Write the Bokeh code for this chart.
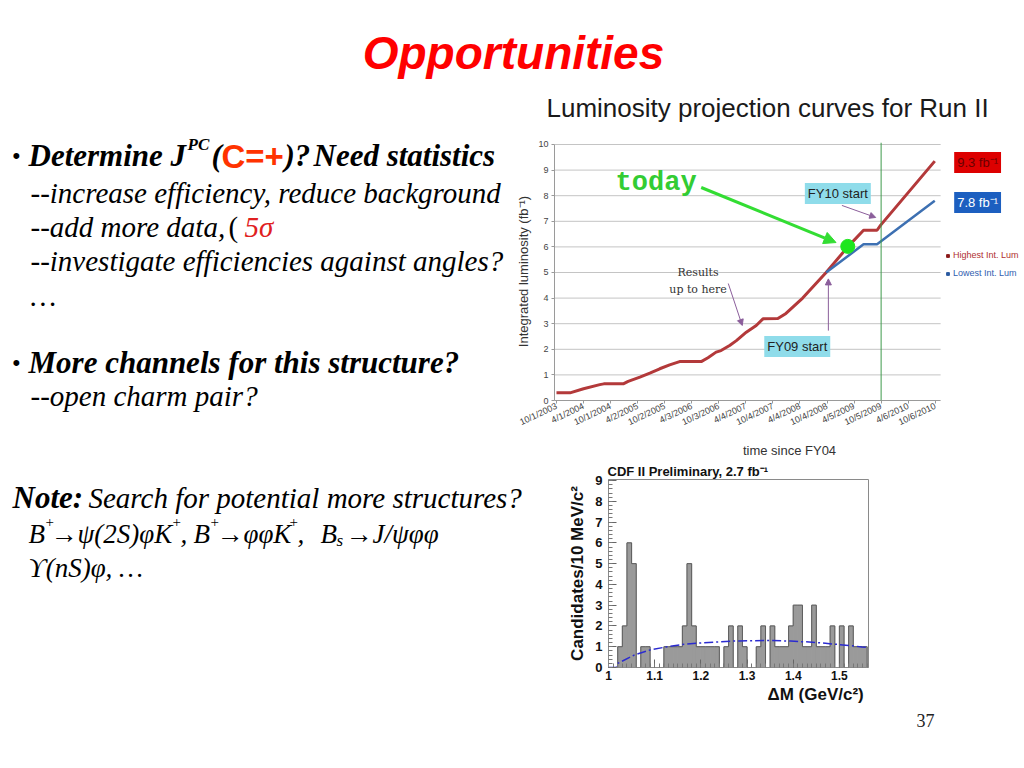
from bokeh.plotting import figure
from bokeh.models import (Range1d, Label, Arrow, NormalHead, Span, Legend, LegendItem,
                          FixedTicker, Title)
from bokeh.layouts import column, row
from bokeh.embed import file_html
from bokeh.resources import INLINE
from bokeh.core.properties import value

# ---------------- data ----------------
lumi_tick_months = [0, 6, 12, 18, 24, 30, 36, 42, 48, 54, 60, 66, 72, 78, 84]
lumi_tick_labels = ["10/1/2003", "4/1/2004", "10/1/2004", "4/2/2005", "10/2/2005",
                    "4/3/2006", "10/3/2006", "4/4/2007", "10/4/2007", "4/4/2008",
                    "10/4/2008", "4/5/2009", "10/5/2009", "4/6/2010", "10/6/2010"]
lumi_y_ticks = [0, 1, 2, 3, 4, 5, 6, 7, 8, 9, 10]
# months since 10/1/2003 and integrated luminosity (fb^-1)
high_months = [0, 3, 6, 9.6, 10.5, 14.8, 15.9, 18.5, 20.7, 22.9, 25.1, 27.3, 32.1, 33.6,
               35.4, 36.5, 38.4, 39.9, 42.1, 44.3, 45.8, 49.1, 50.9, 54.6, 59.8, 64.6,
               68.1, 71.1, 71.9, 83.9]
high_lumi = [0.3, 0.3, 0.46, 0.62, 0.65, 0.65, 0.75, 0.91, 1.07, 1.24, 1.39, 1.52, 1.52,
             1.67, 1.89, 1.95, 2.15, 2.34, 2.67, 2.93, 3.19, 3.2, 3.4, 4.0, 5.0, 6.0,
             6.65, 6.65, 6.85, 9.35]
low_months = [59.8, 68.1, 71.1, 83.9]
low_lumi = [5.0, 6.1, 6.1, 7.8]
today_month = [64.6]
today_lumi = [6.02]
fy10_month = 72
proj_high = "9.3 fb\u207b\u00b9"
proj_low = "7.8 fb\u207b\u00b9"

hist_counts = [0, 0, 1, 2, 6, 5, 0, 1, 1, 0, 0, 0, 1, 1, 1, 1, 2, 5, 2, 1, 1, 1, 1, 1,
               0, 1, 2, 0, 2, 1, 0, 0, 1, 2, 0, 2, 1, 1, 1, 2, 3, 3, 1, 1, 3, 1, 1, 1,
               2, 0, 2, 0, 2, 1, 1, 1]
hist_x0 = 1.00
hist_bw = 0.01
hist_x_ticks = [1.0, 1.1, 1.2, 1.3, 1.4, 1.5]
hist_x_labels = ["1", "1.1", "1.2", "1.3", "1.4", "1.5"]
hist_y_ticks = [0, 1, 2, 3, 4, 5, 6, 7, 8, 9]
fit_x = [1.0, 1.017, 1.02, 1.056, 1.092, 1.128, 1.164, 1.2, 1.272, 1.283, 1.348, 1.394,
         1.441, 1.492, 1.52, 1.549, 1.56]
fit_y = [0.0, 0.0, 0.2, 0.6, 0.86, 1.0, 1.12, 1.18, 1.28, 1.28, 1.3, 1.27, 1.22, 1.12,
         1.06, 0.99, 0.97]

SERIF = "Liberation Serif"
SANS = "Liberation Sans"


def blank(w, h):
    p = figure(width=w, height=h, x_range=Range1d(0, w), y_range=Range1d(h, 0),
               x_axis_type=None, y_axis_type=None, output_backend="svg",
               toolbar_location=None, min_border=0, frame_align=False)
    p.grid.visible = False
    p.outline_line_color = None
    return p


def seg(p, oy, x, y, s, size, color="black", font=SERIF, style="normal",
        align="left", baseline="alphabetic"):
    p.text(x=[x], y=[y - oy], text=[s], text_font=value(font),
           text_font_size=value(f"{size}px"), text_font_style=style, text_color=color,
           text_align=align, text_baseline=baseline)


BI = 31   # bold italic size
IT = 29   # italic size

# ---------------- title ----------------
title_fig = blank(1024, 88)
seg(title_fig, 0, 513, 52, "Opportunities", 46, color="#ff0000", font=SANS,
    style="bold italic", align="center")

# ---------------- left text, top ----------------
lt = blank(513, 372)
o = 88
seg(lt, o, 12, 155, "\u2022", 22, font=SANS)
seg(lt, o, 28, 155, "Determine", BI, style="bold italic")
seg(lt, o, 170, 155, "J", BI, style="bold italic")
seg(lt, o, 187, 144, "PC", 17, style="bold italic")
seg(lt, o, 211, 155, "(", BI, style="bold italic")
seg(lt, o, 221, 156, "C=+", 33, color="#ff3300", font=SANS, style="bold")
seg(lt, o, 284, 155, ")?", BI, style="bold italic")
seg(lt, o, 313, 155, "Need statistics", BI, style="bold italic")
seg(lt, o, 30, 192, "--increase efficiency, reduce background", IT, style="italic")
seg(lt, o, 30, 226, "--add more data,", IT, style="italic")
seg(lt, o, 228, 226, "(", IT)
seg(lt, o, 244, 226, "5\u03c3", IT, color="#e02020", style="italic")
seg(lt, o, 30, 260, "--investigate efficiencies against angles?", IT, style="italic")
seg(lt, o, 30, 295, "\u2026", IT, style="italic")
seg(lt, o, 12, 362, "\u2022", 22, font=SANS)
seg(lt, o, 28, 362, "More channels for this structure?", BI, style="bold italic")
seg(lt, o, 30, 395, "--open charm pair?", IT, style="italic")

# ---------------- left text, bottom ----------------
lb = blank(556, 308)
o = 460
seg(lb, o, 12, 497, "Note:", BI, style="bold italic")
seg(lb, o, 88, 497, "Search for potential more structures?", IT, style="italic")
M = 27
for x, s, kind in [(28, "B", "n"), (45, "+", "sup"), (50, "\u2192\u03c8(2S)\u03c6K", "n"),
                   (172, "+", "sup"), (180, ",", "n"), (193, "B", "n"), (210, "+", "sup"),
                   (216, "\u2192\u03c6\u03c6K", "n"), (289, "+", "sup"), (297, ",", "n"),
                   (320, "B", "n"), (336, "s", "sub"), (345, "\u2192J/\u03c8\u03c6\u03c6", "n")]:
    if kind == "n":
        seg(lb, o, x, 533, s, M, style="italic")
    elif kind == "sup":
        seg(lb, o, x, 521, s, 15)
    else:
        seg(lb, o, x, 540, s, 17, style="italic")
seg(lb, o, 28, 567, "\u03d2(nS)\u03c6, \u2026", M, style="italic")

# ---------------- luminosity chart ----------------
RED = "#b3393a"
BLUE = "#3d70b2"
lumi = figure(width=511, height=372, x_range=Range1d(-0.44, 103.8),
              y_range=Range1d(0, 10.078), output_backend="svg", toolbar_location=None,
              min_border_left=40, min_border_right=0, min_border_top=54,
              min_border_bottom=60, frame_align=False,
              title="Luminosity projection curves for Run II")
lumi.title.text_font = SANS
lumi.title.text_font_size = "26px"
lumi.title.text_font_style = "normal"
lumi.title.text_color = "#1a1a1a"
lumi.title.align = "left"
lumi.title.offset = -8
lumi.title.standoff = 0
# spacer between the chart title and the plot frame
lumi.add_layout(Title(text=" ", text_font_size="10px", standoff=7), "above")
lumi.outline_line_color = None
lumi.grid.visible = False
lumi.segment(x0=-0.44, x1=85.2, y0=lumi_y_ticks, y1=lumi_y_ticks, line_color="#c4c4c4",
             line_width=1)
lumi.yaxis.ticker = FixedTicker(ticks=lumi_y_ticks)
lumi.xaxis.ticker = FixedTicker(ticks=lumi_tick_months)
lumi.xaxis.bounds = (-0.44, 85.2)
lumi.yaxis.bounds = (0, 10)
lumi.xaxis.major_label_overrides = {m: s for m, s in zip(lumi_tick_months, lumi_tick_labels)}
lumi.xaxis.major_label_orientation = 0.44
for ax in (lumi.xaxis[0], lumi.yaxis[0]):
    ax.axis_line_color = "#9a9a9a"
    ax.major_tick_line_color = "#9a9a9a"
    ax.minor_tick_line_color = None
    ax.major_tick_out = 3
    ax.major_tick_in = 0
    ax.major_label_text_font = SANS
    ax.major_label_text_font_size = "9px"
    ax.major_label_text_color = "#444444"
    ax.axis_label_text_font = SANS
    ax.axis_label_text_font_style = "normal"
    ax.axis_label_text_font_size = "13px"
    ax.axis_label_text_color = "#333333"
lumi.yaxis.axis_label = "Integrated luminosity (fb\u207b\u00b9)"
lumi.yaxis.axis_label_standoff = 4
lumi.yaxis.major_label_standoff = 3
lumi.xaxis.axis_label = "time since FY04"
lumi.xaxis.axis_label_standoff = 8
lumi.xaxis.major_label_standoff = 2

lumi.add_layout(Span(location=fy10_month, dimension="height", line_color="#3f9a4c",
                     line_width=1))
r_high = lumi.line(high_months, high_lumi, line_color=RED, line_width=3)
r_low = lumi.line(low_months, low_lumi, line_color=BLUE, line_width=2.5)
lumi.scatter(today_month, today_lumi, size=14, color="#1ee61e")

lumi.add_layout(Arrow(end=NormalHead(size=12, fill_color="#33dd33", line_color="#33dd33"),
                      x_start=32.1, y_start=8.32, x_end=62.0, y_end=6.17,
                      line_color="#33dd33", line_width=3))
lumi.add_layout(Label(x=22.1, y=8.48, text="today", text_font="Liberation Mono",
                      text_font_size="27px", text_font_style="bold", text_color="#33cc33",
                      text_align="center", text_baseline="middle"))
lumi.add_layout(Label(x=31.4, y=5.0, text="Results", text_font="DejaVu Serif",
                      text_font_size="11px", text_color="#333333", text_align="center",
                      text_baseline="middle"))
lumi.add_layout(Label(x=31.4, y=4.34, text="up to here", text_font="DejaVu Serif",
                      text_font_size="11px", text_color="#333333", text_align="center",
                      text_baseline="middle"))
PURPLE = "#8b5e9b"
for xs, ys, xe, ye in [(38.1, 4.57, 41.2, 2.93), (63.3, 7.62, 70.8, 7.15),
                       (60.3, 2.73, 60.3, 4.75)]:
    lumi.add_layout(Arrow(end=NormalHead(size=6, fill_color=PURPLE, line_color=PURPLE),
                          x_start=xs, y_start=ys, x_end=xe, y_end=ye,
                          line_color=PURPLE, line_width=1))
for xc, yc, s in [(62.4, 8.09, "FY10 start"), (53.4, 2.11, "FY09 start")]:
    lumi.add_layout(Label(x=xc, y=yc, text=s, text_font=SANS, text_font_size="13px",
                          text_color="#222222", text_align="center", text_baseline="middle",
                          background_fill_color="#8fdcea", padding=3))
lumi.add_layout(Label(x=93.4, y=9.30, text=proj_high, text_font=SANS, text_font_size="13px",
                      text_color="#6a0000", text_align="center", text_baseline="middle",
                      background_fill_color="#dd0000", padding=3))
lumi.add_layout(Label(x=93.4, y=7.73, text=proj_low, text_font=SANS, text_font_size="13px",
                      text_color="white", text_align="center", text_baseline="middle",
                      background_fill_color="#1c5fc0", padding=3))

# legend swatches (kept outside the visible range; only their legend glyphs show)
sq_red = lumi.scatter([-50], [-50], marker="square", size=7, color="#8b1a1a")
sq_blue = lumi.scatter([-50], [-50], marker="square", size=7, color="#2a5aa0")
for rend, lab, col, yrel in [(sq_red, "Highest Int. Lum", "#b03030", 139.5),
                             (sq_blue, "Lowest Int. Lum", "#3060b0", 121.5)]:
    lg = Legend(items=[LegendItem(label=lab, renderers=[rend])], location=(390, yrel),
                glyph_width=7, glyph_height=7, label_standoff=2, padding=0, margin=0,
                label_text_font=SANS, label_text_font_size="9px", label_text_color=col,
                background_fill_alpha=0, border_line_color=None, label_height=11)
    lumi.add_layout(lg, "center")

# ---------------- histogram ----------------
n = len(hist_counts)
lo = [round(hist_x0 + hist_bw * i, 2) for i in range(n)]
hi = [round(v + hist_bw, 2) for v in lo]
hist = figure(width=340, height=308, x_range=Range1d(1.0, 1.563), y_range=Range1d(0, 9.05),
              output_backend="svg", toolbar_location=None,
              min_border_left=52, min_border_right=28, min_border_top=19,
              min_border_bottom=101, frame_align=False,
              title="CDF II Preliminary, 2.7 fb\u207b\u00b9")
hist.title.text_font = SANS
hist.title.text_font_size = "13px"
hist.title.text_font_style = "bold"
hist.title.text_color = "#111111"
hist.title.align = "left"
hist.title.offset = -1
hist.title.standoff = 1
hist.grid.visible = False
hist.outline_line_color = "#8a8a8a"
HFILL = "#9a9a9a"
hist.quad(left=lo, right=hi, bottom=0, top=hist_counts, fill_color=HFILL,
          line_color=HFILL, line_width=1)
hist.step(lo + [hi[-1]], hist_counts + [0], mode="after", line_color="#5e5e5e",
          line_width=1)
hist.line(fit_x, fit_y, line_color="#2b2bd0", line_width=1.5, line_dash="9 3 2 3")
hist.xaxis.ticker = FixedTicker(ticks=hist_x_ticks,
                                minor_ticks=[round(1.0 + 0.01 * i, 2) for i in range(57)])
hist.yaxis.ticker = FixedTicker(ticks=hist_y_ticks,
                                minor_ticks=[round(0.2 * i, 1) for i in range(46)])
hist.xaxis.major_label_overrides = dict(zip(hist_x_ticks, hist_x_labels))
for ax in (hist.xaxis[0], hist.yaxis[0]):
    ax.axis_line_color = "#8a8a8a"
    ax.major_tick_line_color = "#666666"
    ax.minor_tick_line_color = "#777777"
    ax.major_tick_in = 8
    ax.major_tick_out = 0
    ax.minor_tick_in = 4
    ax.minor_tick_out = 0
    ax.major_label_text_font = SANS
    ax.major_label_text_font_style = "bold"
    ax.major_label_text_color = "#111111"
    ax.axis_label_text_font = SANS
    ax.axis_label_text_font_style = "bold"
    ax.axis_label_text_color = "#111111"
hist.yaxis.major_label_text_font_size = "13px"
hist.xaxis.major_label_text_font_size = "12px"
hist.yaxis.major_label_standoff = 6
hist.xaxis.major_label_standoff = 3
hist.yaxis.axis_label = "Candidates/10 MeV/c\u00b2"
hist.yaxis.axis_label_text_font_size = "17px"
hist.yaxis.axis_label_standoff = 5
hist.add_layout(Title(text="\u0394M  (GeV/c\u00b2)", align="right", text_font=SANS,
                      text_font_size="17px", text_font_style="bold", text_color="#111111",
                      standoff=0), "below")

# ---------------- page number ----------------
pn = blank(128, 308)
seg(pn, 460, 925 - 896, 720, "37", 18, color="#222222", align="center", baseline="middle")

page = column(title_fig, row(lt, lumi), row(lb, hist, pn))
open("out.html", "w").write(file_html(page, INLINE))
